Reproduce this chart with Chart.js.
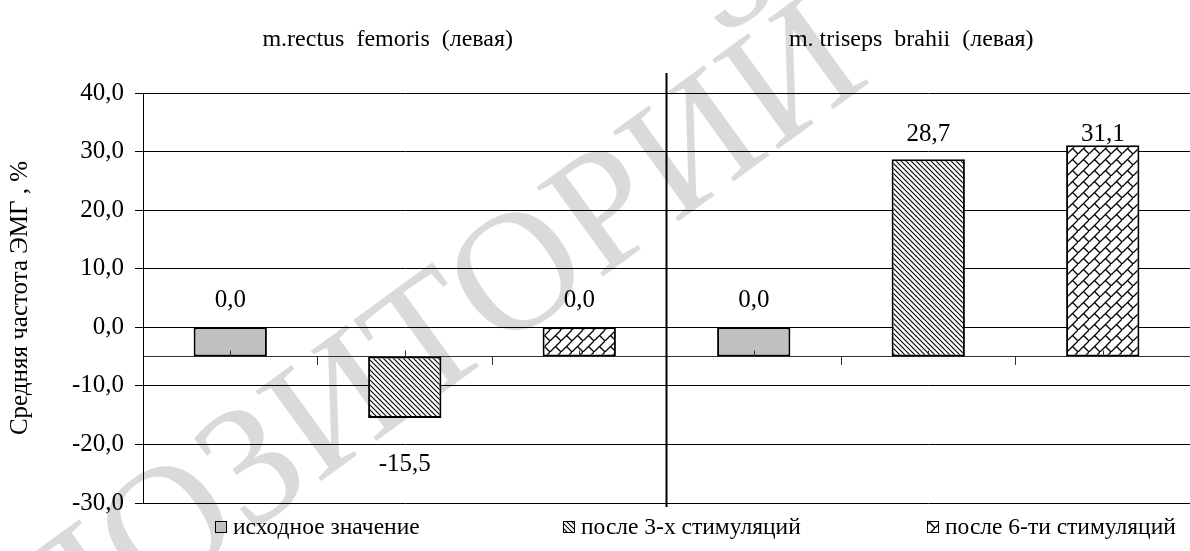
<!DOCTYPE html>
<html lang="ru">
<head>
  <meta charset="UTF-8">
  <title>Средняя частота ЭМГ</title>
  <script src="https://cdn.jsdelivr.net/npm/chart.js"></script>
  <style>
    body { margin: 0; background: #fff; }
    .chart-container { width: 1190px; height: 551px; position: relative; }
  </style>
</head>
<body>
  <div class="chart-container">
    <canvas id="emgChart"></canvas>
  </div>

  <script>
    // данные
    const categories = ['1', '2', '3', '4', '5', '6'];
    const groupTitles = ['m.rectus  femoris  (левая)', 'm. triseps  brahii  (левая)'];
    const seriesNames = ['исходное значение', 'после 3-х стимуляций', 'после 6-ти стимуляций'];
    const initialValues = [0.0, null, null, 0.0, null, null];
    const after3Values = [null, -15.5, null, null, 28.7, null];
    const after6Values = [null, null, 0.0, null, null, 31.1];
    const yTicks = [-30, -20, -10, 0, 10, 20, 30, 40];
    const axisCross = -5;

    const FONT = "'Liberation Serif', 'Times New Roman', serif";
    Chart.defaults.font.family = FONT;
    Chart.defaults.color = '#000';

    // штриховка "\\\"
    function hatchPattern() {
      const c = document.createElement('canvas');
      c.width = 5; c.height = 5;
      const g = c.getContext('2d');
      g.fillStyle = '#fff';
      g.fillRect(0, 0, 5, 5);
      g.strokeStyle = '#000';
      g.lineWidth = 1.1;
      g.beginPath();
      g.moveTo(-1, -1); g.lineTo(6, 6);
      g.moveTo(-1, 4); g.lineTo(1, 6);
      g.moveTo(4, -1); g.lineTo(6, 1);
      g.stroke();
      return g.createPattern(c, 'repeat');
    }

    // диагональный кирпич
    function brickPattern() {
      const s = 11;
      const c = document.createElement('canvas');
      c.width = s; c.height = s;
      const g = c.getContext('2d');
      g.fillStyle = '#fff';
      g.fillRect(0, 0, s, s);
      g.strokeStyle = '#000';
      g.lineWidth = 1.3;
      g.beginPath();
      g.moveTo(-1, s + 1); g.lineTo(s + 1, -1);
      g.moveTo(s / 2, s / 2); g.lineTo(s + 1, s + 1);
      g.stroke();
      return g.createPattern(c, 'repeat');
    }

    const fills = ['#c0c0c0', hatchPattern(), brickPattern()];
    const fmt = v => v.toFixed(1).replace('.', ',');

    const extras = {
      id: 'extras',
      beforeDraw(chart) {
        const ctx = chart.ctx;
        ctx.save();
        ctx.fillStyle = '#fff';
        ctx.fillRect(0, 0, chart.width, chart.height);
        // водяной знак
        ctx.translate(-111, 795);
        ctx.rotate(-36 * Math.PI / 180);
        ctx.fillStyle = '#dadada';
        ctx.font = '170px ' + FONT;
        ctx.textBaseline = 'alphabetic';
        ctx.fillText('РЕПОЗИТОРИЙ', 0, 0);
        ctx.restore();
      },
      afterDatasetsDraw(chart) {
        const ctx = chart.ctx;
        const x = chart.scales.x, y = chart.scales.y;
        const axisY = y.getPixelForValue(axisCross);
        ctx.save();

        // короткие засечки в центрах категорий
        ctx.strokeStyle = '#333';
        ctx.lineWidth = 1;
        ctx.beginPath();
        categories.forEach((c, i) => {
          const px = Math.round(x.getPixelForValue(i)) + 0.5;
          ctx.moveTo(px, axisY - 6);
          ctx.lineTo(px, axisY);
        });
        ctx.stroke();

        // разделитель групп
        const sepX = (x.getPixelForValue(2) + x.getPixelForValue(3)) / 2;
        ctx.strokeStyle = '#000';
        ctx.lineWidth = 2;
        ctx.beginPath();
        ctx.moveTo(sepX, chart.chartArea.top - 20);
        ctx.lineTo(sepX, chart.chartArea.bottom + 4);
        ctx.stroke();

        // подписи значений
        ctx.fillStyle = '#000';
        ctx.font = '25px ' + FONT;
        ctx.textAlign = 'center';
        ctx.textBaseline = 'middle';
        chart.data.datasets.forEach((ds, di) => {
          chart.getDatasetMeta(di).data.forEach((bar, i) => {
            const v = ds.data[i];
            if (v === null) return;
            let ly;
            if (v >= axisCross) {
              ly = Math.max(bar.y - 27, y.getPixelForValue(33));
            } else {
              ly = bar.y + 46;
            }
            ctx.fillText(fmt(v), bar.x, ly);
          });
        });

        // заголовки групп
        ctx.font = '24px ' + FONT;
        ctx.fillText(groupTitles[0], x.getPixelForValue(1) - 17, 40);
        ctx.fillText(groupTitles[1], x.getPixelForValue(4) - 17, 40);

        // легенда
        const legendX = [215, 563, 927];
        const legendY = 527;
        ctx.textAlign = 'left';
        ctx.font = '23.5px ' + FONT;
        chart.data.datasets.forEach((ds, di) => {
          const lx = legendX[di];
          ctx.fillStyle = ds.backgroundColor;
          ctx.fillRect(lx, legendY - 6, 12, 12);
          ctx.strokeStyle = '#000';
          ctx.lineWidth = 1;
          ctx.strokeRect(lx + 0.5, legendY - 5.5, 11, 11);
          ctx.fillStyle = '#000';
          ctx.fillText(ds.label, lx + 18, legendY + 1);
        });
        ctx.restore();
      }
    };

    const datasetsData = [initialValues, after3Values, after6Values];
    const ctx = document.getElementById('emgChart').getContext('2d');
    new Chart(ctx, {
      type: 'bar',
      data: {
        labels: categories,
        datasets: datasetsData.map((d, i) => ({
          label: seriesNames[i],
          data: d,
          backgroundColor: fills[i],
          borderColor: '#000',
          borderWidth: 2,
          borderSkipped: false,
          base: axisCross,
          grouped: false,
          barPercentage: 0.42,
          categoryPercentage: 1
        }))
      },
      options: {
        responsive: true,
        maintainAspectRatio: false,
        animation: false,
        layout: { padding: { top: 93, bottom: 48, right: 0, left: 0 } },
        plugins: {
          legend: { display: false },
          tooltip: { enabled: false }
        },
        scales: {
          x: {
            position: { y: axisCross },
            ticks: { display: false },
            grid: { drawOnChartArea: false, offset: true, tickLength: 8, color: '#333' },
            border: { color: '#333', width: 1 }
          },
          y: {
            min: yTicks[0],
            max: yTicks[yTicks.length - 1],
            ticks: {
              stepSize: 10,
              padding: 11,
              font: { size: 25 },
              color: '#000',
              callback: v => fmt(v)
            },
            grid: { color: '#000', tickLength: 8 },
            border: { color: '#000', width: 1 },
            title: {
              display: true,
              text: 'Средняя частота ЭМГ , %',
              font: { size: 25 },
              color: '#000',
              padding: { top: 5, bottom: 0 }
            },
            afterFit(scale) { scale.width = 143; }
          }
        }
      },
      plugins: [extras]
    });
  </script>
</body>
</html>
